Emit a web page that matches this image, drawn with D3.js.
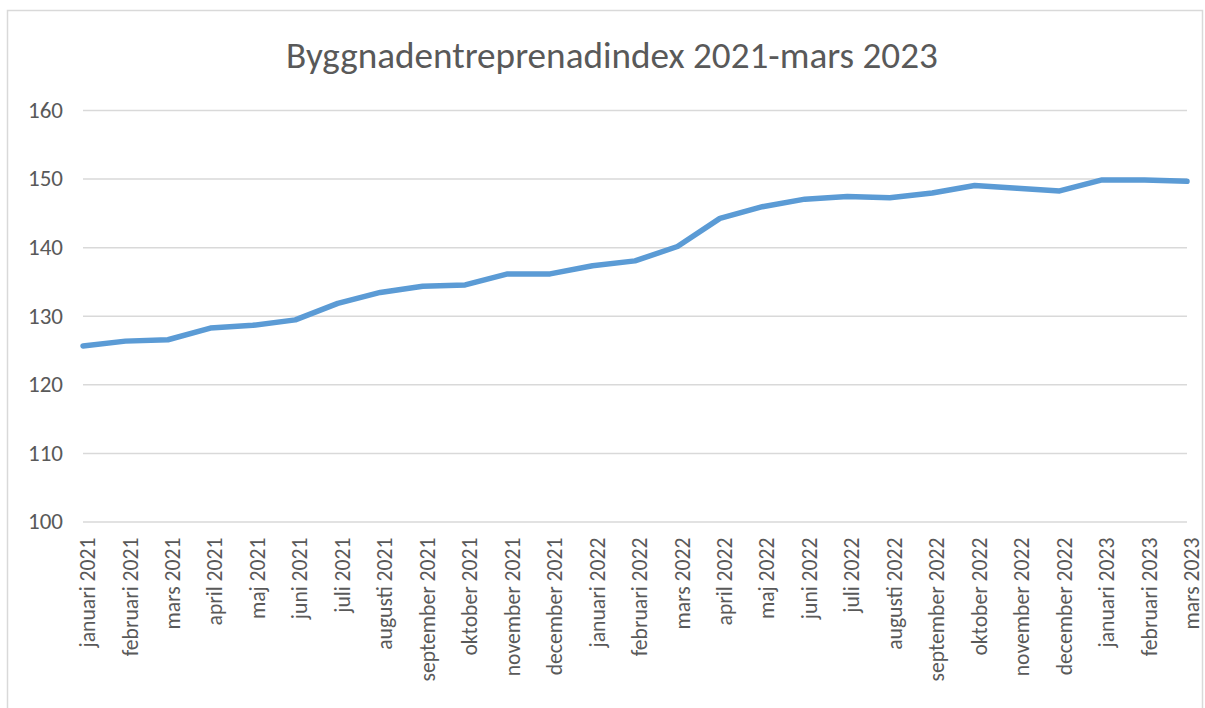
<!DOCTYPE html>
<html><head><meta charset="utf-8">
<script src="https://cdn.jsdelivr.net/npm/d3@7"></script>
<style>
html,body{margin:0;padding:0;background:#fff;}
svg{display:block;}
text{font-family:Carlito, Lato, "Open Sans", sans-serif;fill:#595959;}
</style></head>
<body>
<svg id="chart" width="1205" height="708"></svg>
<script>
const months = ["januari 2021","februari 2021","mars 2021","april 2021","maj 2021","juni 2021","juli 2021","augusti 2021","september 2021","oktober 2021","november 2021","december 2021","januari 2022","februari 2022","mars 2022","april 2022","maj 2022","juni 2022","juli 2022","augusti 2022","september 2022","oktober 2022","november 2022","december 2022","januari 2023","februari 2023","mars 2023"];
const values = [125.6,126.3,126.5,128.2,128.6,129.4,131.8,133.4,134.3,134.5,136.1,136.1,137.3,138.0,140.1,144.2,145.9,147.0,147.4,147.2,147.9,149.0,148.6,148.2,149.8,149.8,149.6];
const yTicks = [100,110,120,130,140,150,160];
const title = "Byggnadentreprenadindex 2021-mars 2023";

const svg = d3.select("#chart");
const pL = 83, pR = 1187, pT = 110, pB = 521.5;

// chart border
svg.append("rect").attr("x",7.5).attr("y",10.5).attr("width",1195).attr("height",740)
  .attr("fill","none").attr("stroke","#d9d9d9").attr("stroke-width",1.5);

const x = d3.scalePoint().domain(months).range([pL,pR]);
const y = d3.scaleLinear().domain([100,160]).range([pB,pT]);

function fitSize(str, target){
  const t = svg.append("text").attr("font-size",100).text(str);
  const w = t.node().getComputedTextLength();
  t.remove();
  return 100*target/w;
}

// gridlines
const yAxis = d3.axisLeft(y).tickValues(yTicks).tickSize(-(pR-pL)).tickPadding(20).tickFormat(d3.format("d"));
const ys = fitSize("100",35);
const gy = svg.append("g").attr("transform",`translate(${pL},0)`).call(yAxis);
gy.attr("font-family",null).attr("font-size",null);
gy.select(".domain").remove();
gy.selectAll(".tick line").attr("stroke","#d9d9d9").attr("stroke-width",1.5);
gy.selectAll(".tick text").attr("font-size",ys).attr("fill","#595959").attr("x",-20);

// x axis labels
const xs = fitSize("januari 2021",110);
const gx = svg.append("g").attr("transform",`translate(0,${pB})`)
  .call(d3.axisBottom(x).tickSize(0).tickPadding(0));
gx.attr("font-family",null).attr("font-size",null);
gx.select(".domain").remove();
gx.selectAll(".tick text")
  .attr("font-size",xs).attr("fill","#595959")
  .attr("text-anchor","end")
  .attr("transform","rotate(-90)")
  .attr("x",-16).attr("y",4).attr("dy","0.35em");

// line
const line = d3.line().x((d,i)=>x(months[i])).y(d=>y(d));
svg.append("path").datum(values).attr("d",line)
  .attr("fill","none").attr("stroke","#5b9bd5").attr("stroke-width",5.5)
  .attr("stroke-linejoin","round").attr("stroke-linecap","round");

// title
const ts = fitSize(title,652);
svg.append("text").attr("x",(286+938)/2).attr("y",68).attr("text-anchor","middle")
  .attr("font-size",ts).text(title);
</script>
</body></html>
